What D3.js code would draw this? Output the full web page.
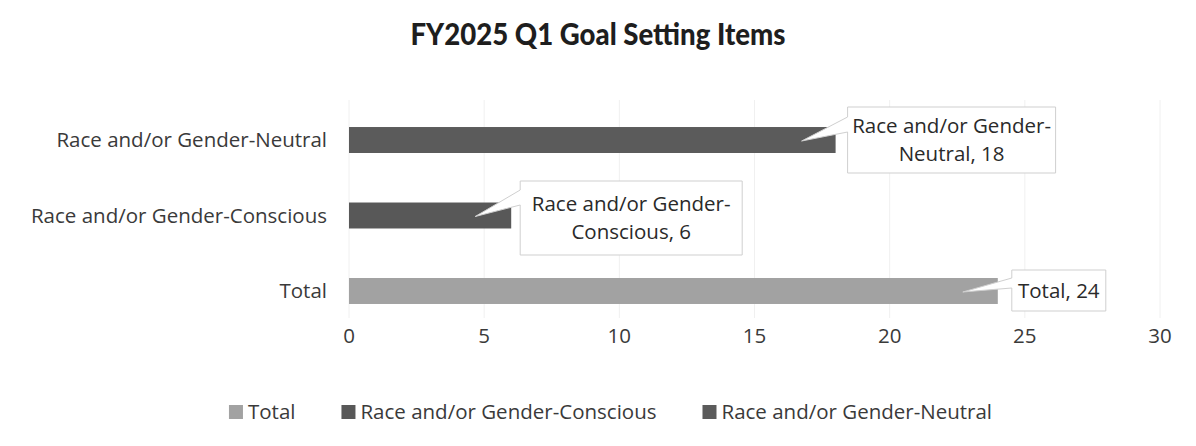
<!DOCTYPE html>
<html>
<head>
<meta charset="utf-8">
<script src="https://cdn.jsdelivr.net/npm/d3@7"></script>
<style>
  body { margin: 0; background: #fff; }
  text { font-family: "Open Sans", Lato, sans-serif; }
</style>
</head>
<body>
<svg id="chart" width="1196" height="446"></svg>
<script>
// data
const categories = ["Race and/or Gender-Neutral", "Race and/or Gender-Conscious", "Total"];
const values = [18, 6, 24];
const barColors = ["#5b5b5b", "#585858", "#a2a2a2"];
const callLines = [["Race and/or Gender-", "Neutral, 18"], ["Race and/or Gender-", "Conscious, 6"], ["Total, 24"]];
const xTicks = [0, 5, 10, 15, 20, 25, 30];
const legendNames = ["Total", "Race and/or Gender-Conscious", "Race and/or Gender-Neutral"];
const legendColors = ["#a2a2a2", "#585858", "#5b5b5b"];

const width = 1196, height = 446;
const svg = d3.select("#chart");
const fs = "20.5px";

const x = d3.scaleLinear().domain([0, 30]).range([349, 1160]);
const y = d3.scaleBand().domain(categories).range([77.5, 353.5]).padding(0.656);

// faint gridlines
svg.append("g")
  .selectAll("line")
  .data(xTicks)
  .join("line")
  .attr("x1", d => x(d)).attr("x2", d => x(d))
  .attr("y1", 100).attr("y2", 318)
  .attr("stroke", "#f0f0f0").attr("stroke-width", 1);

// title
svg.append("text")
  .attr("x", 598).attr("y", 45)
  .attr("text-anchor", "middle")
  .attr("textLength", 375).attr("lengthAdjust", "spacingAndGlyphs")
  .style("font-family", "Lato, sans-serif")
  .style("font-size", "31px").style("font-weight", "900").attr("fill", "#1e1e1e")
  .text("FY2025 Q1 Goal Setting Items");

// bars
svg.append("g")
  .selectAll("rect")
  .data(categories)
  .join("rect")
  .attr("x", x(0))
  .attr("y", d => y(d))
  .attr("width", (d, i) => x(values[i]) - x(0))
  .attr("height", y.bandwidth())
  .attr("fill", (d, i) => barColors[i]);

// category labels
svg.append("g")
  .selectAll("text")
  .data(categories)
  .join("text")
  .attr("x", 327)
  .attr("y", d => y(d) + y.bandwidth() / 2)
  .attr("dy", "0.35em")
  .attr("text-anchor", "end")
  .style("font-size", fs).attr("fill", "#3a3a3a")
  .text(d => d);

// x axis tick labels
svg.append("g")
  .selectAll("text")
  .data(xTicks)
  .join("text")
  .attr("x", d => x(d))
  .attr("y", 336)
  .attr("dy", "0.35em")
  .attr("text-anchor", "middle")
  .style("font-size", fs).attr("fill", "#3a3a3a")
  .text(d => d);

// callouts: box offset from bar end, wedge points back to bar
const callBoxes = [
  { dx: 12, top: 107, w: 208, h: 66, a1: 117, a2: 132, tipDx: -34 },
  { dx: 9, top: 181, w: 222, h: 74, a1: 190, a2: 205, tipDx: -36 },
  { dx: 14, top: 270, w: 94, h: 41, a1: 278, a2: 288, tipDx: -35 }
];

categories.forEach((c, i) => {
  const b = callBoxes[i];
  const ex = x(values[i]);
  const bx = ex + b.dx;
  const tipX = ex + b.tipDx;
  const tipY = y(c) + y.bandwidth() / 2 + 1;
  const path = d3.path();
  path.moveTo(bx, b.top);
  path.lineTo(bx + b.w, b.top);
  path.lineTo(bx + b.w, b.top + b.h);
  path.lineTo(bx, b.top + b.h);
  path.lineTo(bx, b.a2);
  path.lineTo(tipX, tipY);
  path.lineTo(bx, b.a1);
  path.closePath();
  svg.append("path")
    .attr("d", path.toString())
    .attr("fill", "#fff")
    .attr("stroke", "#cfcfcf").attr("stroke-width", 1);

  const lines = callLines[i];
  const lh = 28;
  const cy = b.top + b.h / 2;
  lines.forEach((t, j) => {
    svg.append("text")
      .attr("x", bx + b.w / 2)
      .attr("y", cy + (j - (lines.length - 1) / 2) * lh)
      .attr("dy", "0.35em")
      .attr("text-anchor", "middle")
      .style("font-size", fs).attr("fill", "#2a2a2a")
      .text(t);
  });
});

// legend
const legend = svg.append("g");
let lx = 0;
const gap = 46;
legendNames.forEach((n, i) => {
  const g = legend.append("g");
  g.append("rect").attr("x", 0).attr("y", -7).attr("width", 14).attr("height", 14).attr("fill", legendColors[i]);
  const t = g.append("text").attr("x", 19).attr("y", 0).attr("dy", "0.35em")
    .style("font-size", fs).attr("fill", "#3a3a3a").text(n);
  const w = 19 + t.node().getComputedTextLength();
  g.attr("transform", `translate(${lx},412)`);
  lx += w + gap;
});
const totalW = lx - gap;
legend.attr("transform", `translate(${(224 + 997) / 2 - totalW / 2},0)`);
</script>
</body>
</html>
